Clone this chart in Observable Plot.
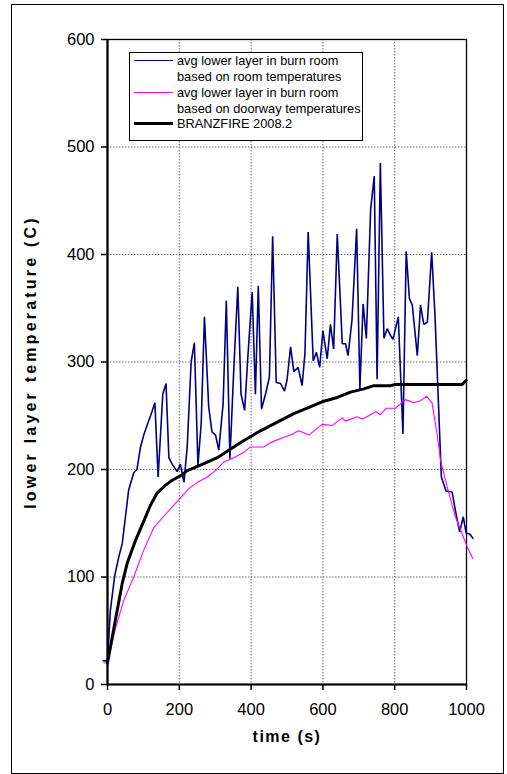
<!DOCTYPE html>
<html><head><meta charset="utf-8">
<script src="https://cdn.jsdelivr.net/npm/d3@7"></script>
<script src="https://cdn.jsdelivr.net/npm/@observablehq/plot@0.6"></script>
<style>
body{margin:0;background:#fff;}
#wrap{position:relative;width:507px;height:774px;overflow:hidden;font-family:"Liberation Sans",Arial,sans-serif;background:#fff;}
#border{position:absolute;left:11px;top:4px;width:493px;height:770px;border:1.5px solid #000;box-sizing:border-box;pointer-events:none;}
#chart{position:absolute;left:0;top:0;}
#legend{position:absolute;left:129px;top:52px;width:234px;height:89px;border:1.5px solid #000;box-sizing:border-box;background:#fff;}
.lg-line{position:absolute;left:4px;width:39px;}
.lg-text{position:absolute;left:47px;font-size:12.8px;line-height:15px;white-space:nowrap;color:#000;}
</style>
</head><body>
<div id="wrap"><div id="chart"></div><div id="legend"></div><div id="border"></div></div>
<script>
// ---- data (time s, temperature C) ----
const roomTime = [-12,0,8,20,31,41,59,73,82,92,101,110,120,132,141,154,163,171,180,194,203,213,222,233,242,252,261,270,282,291,301,310,322,331,341,352,363,372,382,391,403,412,420,429,440,451,460,470,482,493,500,510,519,531,542,550,559,573,582,591,600,612,621,630,640,654,663,670,681,694,703,712,721,733,743,751,760,770,779,788,795,810,823,832,841,849,863,872,881,891,903,912,930,943,960,969,981,991,999,1009,1018];
const roomTemp = [22,22,69,101,118,131,181,197,200,221,232,241,250,262,193,270,280,211,205,198,205,188,221,300,318,204,243,342,258,235,232,218,261,357,210,295,370,270,255,305,365,270,371,256,270,286,417,281,280,273,283,314,291,295,278,308,421,301,309,295,329,303,335,312,419,317,317,306,339,424,275,354,322,442,473,284,485,322,331,325,321,342,233,403,359,353,306,353,335,337,402,345,193,180,179,162,142,156,141,140,136];

const doorTime = [-10,0,22,45,73,101,129,166,199,226,250,278,301,324,352,380,398,435,454,491,510,533,561,598,626,654,663,695,709,728,747,760,777,802,830,853,872,889,904,918,928,946,969,988,1002,1018];
const doorTemp = [20,20,52,78,100,125,146,160,172,182,188,193,199,207,211,216,221,221,225,230,232,236,232,242,241,248,245,249,247,250,254,251,257,257,265,262,264,268,262,233,208,184,156,140,128,117];

const branzTime = [0,22,41,55,78,101,120,138,160,180,203,222,259,306,343,380,426,473,519,556,598,640,677,714,742,788,802,988,999];
const branzTemp = [20,60,94,113,134,152,167,178,185,190,194,199,204,211,219,227,236,244,252,257,263,267,272,275,278,278,279,279,283];

const xTicks = [0,200,400,600,800,1000];
const yTicks = [0,100,200,300,400,500,600];
const xGrid = [200,400,600,800];
const yGrid = [100,200,300,400,500];

const seriesNames = ["avg lower layer in burn room\nbased on room temperatures","avg lower layer in burn room\nbased on doorway temperatures","BRANZFIRE 2008.2"];
const seriesColors = ["#000080","#ff00ff","#000000"];
const seriesWidths = [1.6,1.1,3];

const toRows = (ts, vs) => ts.map((t,i)=>({t, v: vs[i]}));
const room = toRows(roomTime, roomTemp);
const door = toRows(doorTime, doorTemp);
const branz = toRows(branzTime, branzTemp);

const plot = Plot.plot({
  width: 507, height: 774,
  marginLeft: 107, marginRight: 41, marginTop: 39, marginBottom: 90,
  style: {fontFamily: '"Liberation Sans", Arial, sans-serif', background: "transparent", color: "#000"},
  x: {domain: [0,1000]},
  y: {domain: [0,600]},
  marks: [
    Plot.gridX(xGrid, {stroke: "#707070", strokeOpacity: 1, strokeDasharray: "1.5,1.5"}),
    Plot.gridY(yGrid, {stroke: "#707070", strokeOpacity: 1, strokeDasharray: "1.5,1.5"}),
    Plot.frame({stroke: "#000", strokeWidth: 1.3}),
    Plot.line(room, {x: "t", y: "v", stroke: seriesColors[0], strokeWidth: seriesWidths[0], strokeLinejoin: "miter"}),
    Plot.line(door, {x: "t", y: "v", stroke: seriesColors[1], strokeWidth: seriesWidths[1]}),
    Plot.line(branz, {x: "t", y: "v", stroke: seriesColors[2], strokeWidth: seriesWidths[2]}),
    Plot.ruleX([0], {stroke: "#000", strokeWidth: 2.2}),
    Plot.ruleY([0], {stroke: "#000", strokeWidth: 2.2}),
    Plot.axisX({ticks: xTicks, tickSize: 6, tickPadding: 13, fontSize: 16.5, tickFormat: d => String(d), label: null, strokeWidth: 1.5}),
    Plot.axisY({ticks: yTicks, tickSize: 6, tickPadding: 7, fontSize: 16.5, tickFormat: d => String(d), label: null, strokeWidth: 1.5}),
    Plot.text(["time (s)"], {frameAnchor: "bottom", dy: 57, fontSize: 16, fontWeight: "bold", textAnchor: "middle"}),
    Plot.text(["lower layer temperature (C)"], {frameAnchor: "left", dx: -77, rotate: -90, fontSize: 16, fontWeight: "bold", textAnchor: "middle"})
  ]
});
document.getElementById("chart").appendChild(plot);
d3.select(plot).selectAll("text").filter(function(){ return this.textContent === "time (s)"; })
  .style("letter-spacing", "1.5px");
d3.select(plot).selectAll("text").filter(function(){ return this.textContent === "lower layer temperature (C)"; })
  .style("letter-spacing", "3.2px");

// legend
const lg = d3.select("#legend");
const rowsY = [9, 41, 72];
seriesNames.forEach((name, i) => {
  lg.append("div").attr("class","lg-line")
    .style("top", (rowsY[i] - seriesWidths[i]/2 - 1.5) + "px")
    .style("height", seriesWidths[i] + "px")
    .style("background", seriesColors[i]);
  name.split("\n").forEach((line, j) => {
    lg.append("div").attr("class","lg-text")
      .style("top", (rowsY[i] - 1.5 - 7.5 + j*15.5) + "px")
      .text(line);
  });
});
</script>
</body></html>
